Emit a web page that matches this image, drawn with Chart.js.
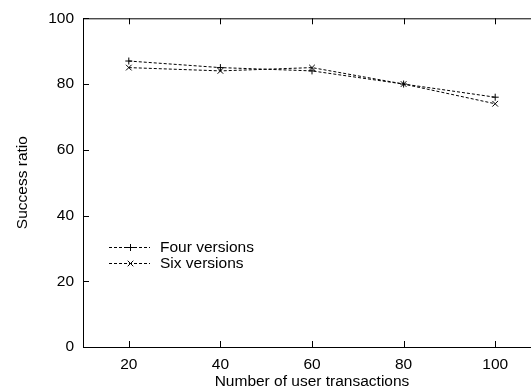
<!DOCTYPE html>
<html>
<head>
<meta charset="utf-8">
<script src="https://cdn.jsdelivr.net/npm/chart.js@4.4.1/dist/chart.umd.min.js"></script>
<style>
  html, body { margin: 0; padding: 0; background: #fff; overflow: hidden; }
  canvas { display: block; }
</style>
</head>
<body>
<canvas id="chart" width="560" height="391"></canvas>
<script>
const transactions = [20, 40, 60, 80, 100]
const fourVersions = [87, 85, 84, 80, 76]
const sixVersions = [85, 84, 85, 80, 74]
const xTicks = [20, 40, 60, 80, 100]
const yTicks = [0, 20, 40, 60, 80, 100]

const FONT = "'Liberation Sans', Arial, sans-serif"
const SIZE = 15.5
const INK = "#000"

const toPoints = (values) => values.map((y, i) => ({ x: transactions[i], y }))

// gnuplot style frame: full box with inward ticks on all sides
const framePlugin = {
  id: "frame",
  afterDatasetsDraw(chart) {
    const { ctx, chartArea: a, scales } = chart
    const len = 6
    ctx.save()
    ctx.strokeStyle = INK
    ctx.lineWidth = 1
    ctx.strokeRect(a.left + 0.5, a.top + 0.5, a.right - a.left, a.bottom - a.top)
    ctx.beginPath()
    xTicks.forEach((v) => {
      const px = Math.round(scales.x.getPixelForValue(v)) + 0.5
      ctx.moveTo(px, a.bottom)
      ctx.lineTo(px, a.bottom - len)
      ctx.moveTo(px, a.top)
      ctx.lineTo(px, a.top + len)
    })
    yTicks.forEach((v) => {
      const py = Math.round(scales.y.getPixelForValue(v)) + 0.5
      ctx.moveTo(a.left, py)
      ctx.lineTo(a.left + len, py)
      ctx.moveTo(a.right, py)
      ctx.lineTo(a.right - len, py)
    })
    ctx.stroke()
    ctx.restore()
  }
}

// legend sits inside the plot, line sample then label
const legendPlugin = {
  id: "insideLegend",
  afterDraw(chart) {
    const { ctx } = chart
    const x0 = 109
    const x1 = 150
    const rows = [247, 263]
    ctx.save()
    chart.data.datasets.forEach((ds, i) => {
      const y = rows[i] + 0.5
      ctx.strokeStyle = ds.borderColor
      ctx.lineWidth = 1
      ctx.setLineDash(ds.borderDash)
      ctx.beginPath()
      ctx.moveTo(x0, y)
      ctx.lineTo(x1, y)
      ctx.stroke()
      ctx.setLineDash([])
      const mx = (x0 + x1) / 2 + 1
      const r = 3.5
      ctx.beginPath()
      if (ds.pointStyle === "cross") {
        ctx.moveTo(mx - r, y)
        ctx.lineTo(mx + r, y)
        ctx.moveTo(mx, y - r)
        ctx.lineTo(mx, y + r)
      } else {
        ctx.moveTo(mx - 2.8, y - 2.8)
        ctx.lineTo(mx + 2.8, y + 2.8)
        ctx.moveTo(mx - 2.8, y + 2.8)
        ctx.lineTo(mx + 2.8, y - 2.8)
      }
      ctx.stroke()
      ctx.fillStyle = INK
      ctx.font = `${SIZE}px ${FONT}`
      ctx.textBaseline = "middle"
      ctx.textAlign = "left"
      ctx.fillText(ds.label, 160, y)
    })
    ctx.restore()
  }
}

const canvas = document.getElementById("chart")
new Chart(canvas.getContext("2d"), {
  type: "line",
  data: {
    datasets: [
      {
        label: "Four versions",
        data: toPoints(fourVersions),
        borderColor: INK,
        borderWidth: 1,
        borderDash: [3, 2],
        pointStyle: "cross",
        pointRadius: 3.5,
        pointBorderColor: INK,
        pointBorderWidth: 1,
        fill: false,
        tension: 0
      },
      {
        label: "Six versions",
        data: toPoints(sixVersions),
        borderColor: INK,
        borderWidth: 1,
        borderDash: [3, 2],
        pointStyle: "crossRot",
        pointRadius: 4,
        pointBorderColor: INK,
        pointBorderWidth: 1,
        fill: false,
        tension: 0
      }
    ]
  },
  options: {
    responsive: false,
    animation: false,
    layout: { padding: { top: 18, right: 19, left: 0, bottom: 0 } },
    plugins: {
      legend: { display: false },
      tooltip: { enabled: false }
    },
    scales: {
      x: {
        type: "linear",
        min: 10,
        max: 110,
        afterBuildTicks: (scale) => { scale.ticks = xTicks.map((value) => ({ value })) },
        afterFit: (scale) => { scale.height = 44 },
        grid: { display: false, drawTicks: false },
        border: { display: false },
        ticks: { color: INK, padding: 8, font: { family: FONT, size: SIZE }, maxRotation: 0 },
        title: {
          display: true,
          text: "Number of user transactions",
          color: INK,
          padding: 0,
          font: { family: FONT, size: SIZE }
        }
      },
      y: {
        min: 0,
        max: 100,
        afterBuildTicks: (scale) => { scale.ticks = yTicks.map((value) => ({ value })) },
        afterFit: (scale) => { scale.width = 83 },
        grid: { display: false, drawTicks: false },
        border: { display: false },
        ticks: { color: INK, padding: 9, font: { family: FONT, size: SIZE } },
        title: {
          display: true,
          text: "Success ratio",
          color: INK,
          padding: 13,
          font: { family: FONT, size: SIZE }
        }
      }
    }
  },
  plugins: [framePlugin, legendPlugin]
})
</script>
</body>
</html>
